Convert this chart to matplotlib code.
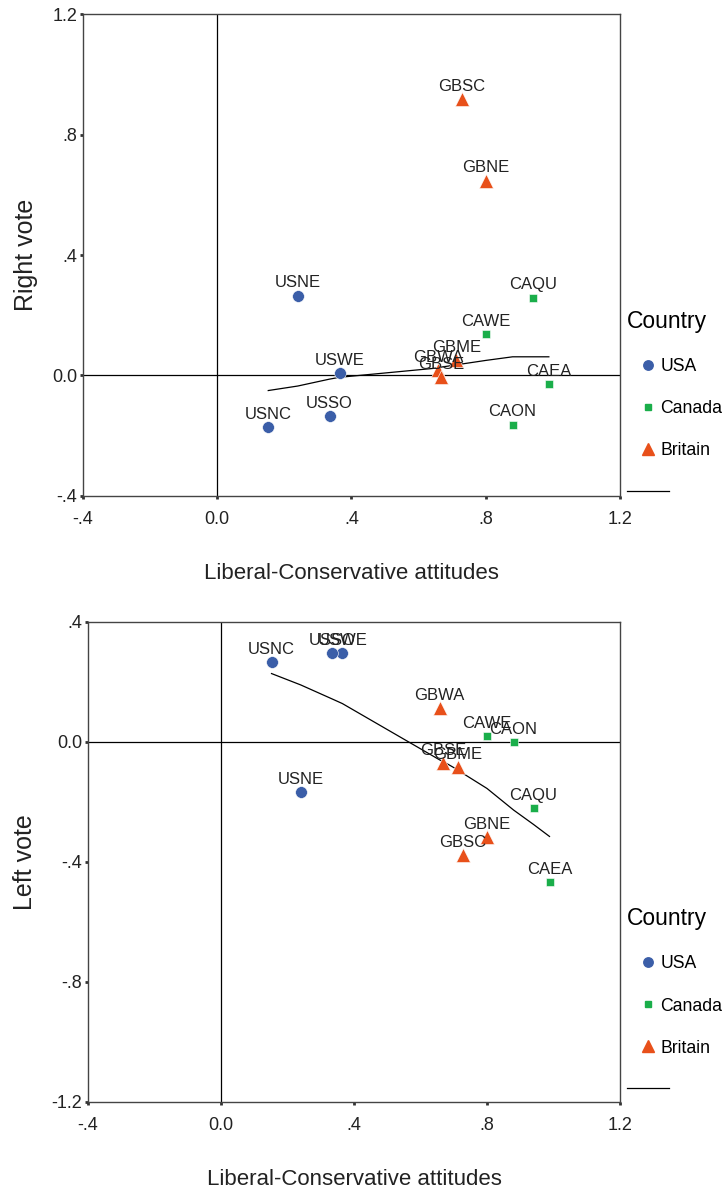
import matplotlib.pyplot as plt
from matplotlib.lines import Line2D

plt.rcParams['font.family'] = ['Liberation Sans', 'DejaVu Sans']

# region codes, country and liberal-conservative score
regions = ['USNE', 'USWE', 'USSO', 'USNC', 'CAQU', 'CAWE', 'CAEA', 'CAON',
           'GBSC', 'GBNE', 'GBME', 'GBWA', 'GBSE']
country = ['USA'] * 4 + ['Canada'] * 4 + ['Britain'] * 5
libcon = [0.24, 0.365, 0.335, 0.152, 0.94, 0.80, 0.988, 0.88,
          0.728, 0.80, 0.712, 0.658, 0.668]
right_vote = [0.265, 0.008, -0.135, -0.172, 0.258, 0.138, -0.028, -0.163,
              0.917, 0.647, 0.05, 0.017, -0.005]
left_vote = [-0.167, 0.297, 0.297, 0.267, -0.22, 0.02, -0.467, 0.0,
             -0.377, -0.317, -0.083, 0.113, -0.07]

# smoothed fit lines
fit_x = [0.152, 0.24, 0.335, 0.365, 0.658, 0.668, 0.712, 0.728, 0.80, 0.88, 0.94, 0.988]
fit_right = [-0.05, -0.035, -0.012, -0.006, 0.025, 0.028, 0.035, 0.038, 0.05, 0.062, 0.062, 0.062]
fit_left = [0.228, 0.19, 0.143, 0.128, -0.06, -0.065, -0.093, -0.105, -0.155, -0.227, -0.275, -0.315]

styles = {
    'USA': dict(marker='o', color='#3b5ea8', ms=8.5),
    'Canada': dict(marker='s', color='#1aae4a', ms=6),
    'Britain': dict(marker='^', color='#e8501a', ms=10),
}

x_ticks = [-0.4, 0.0, 0.4, 0.8, 1.2]
x_ticklabels = ['-.4', '0.0', '.4', '.8', '1.2']


def panel(ax, yvals, fit_y, ylim, yticks, yticklabels, ylabel, legend_y):
    ax.axhline(0, color='black', lw=0.9, zorder=1)
    ax.axvline(0, color='black', lw=0.9, zorder=1)
    for c in ['USA', 'Canada', 'Britain']:
        st = styles[c]
        xs = [x for x, k in zip(libcon, country) if k == c]
        ys = [y for y, k in zip(yvals, country) if k == c]
        ax.plot(xs, ys, ls='none', marker=st['marker'], color=st['color'],
                ms=st['ms'], mec='white', mew=0.4, zorder=3)
    for name, x, y in zip(regions, libcon, yvals):
        ax.annotate(name, (x, y), xytext=(0, 6), textcoords='offset points',
                    ha='center', va='baseline', fontsize=12, color='#222222', zorder=4)
    ax.plot(fit_x, fit_y, color='black', lw=0.9, zorder=2)

    ax.set_xlim(-0.4, 1.2)
    ax.set_ylim(*ylim)
    ax.set_xticks(x_ticks)
    ax.set_xticklabels(x_ticklabels)
    ax.set_yticks(yticks)
    ax.set_yticklabels(yticklabels)
    ax.tick_params(direction='out', length=2, width=2, labelsize=13,
                   colors='#333333', labelcolor='#222222')
    ax.tick_params(axis='x', pad=9)
    ax.tick_params(axis='y', pad=2)
    for s in ax.spines.values():
        s.set_color('#444444')
        s.set_linewidth(1.0)
    ax.set_xlabel('Liberal-Conservative attitudes', fontsize=16, labelpad=25, color='#222222')
    ax.set_ylabel(ylabel, fontsize=18, labelpad=10.5, color='#222222')

    handles = [Line2D([], [], ls='none', marker=styles[c]['marker'], color=styles[c]['color'],
                      ms=styles[c]['ms'] * 0.8, label=c) for c in ['USA', 'Canada', 'Britain']]
    handles.append(Line2D([], [], color='black', lw=0.9, label=' '))
    leg = ax.legend(handles=handles, title='Country', loc='upper left',
                    bbox_to_anchor=(1.0, legend_y), frameon=False, fontsize=12.7,
                    title_fontsize=16.5, handlelength=2.4, handletextpad=-0.5,
                    labelspacing=1.42, borderaxespad=0.0)
    leg._legend_box.align = 'left'


fig = plt.figure(figsize=(7.26, 12), dpi=100)
ax1 = fig.add_axes([0.1143, 0.5867, 0.854 - 0.1143, 0.9883 - 0.5867])
ax2 = fig.add_axes([0.1212, 0.0817, 0.854 - 0.1212, 0.4817 - 0.0817])

panel(ax1, right_vote, fit_right, (-0.4, 1.2), [-0.4, 0.0, 0.4, 0.8, 1.2],
      ['-.4', '0.0', '.4', '.8', '1.2'], 'Right vote', 0.40)
panel(ax2, left_vote, fit_left, (-1.2, 0.4), [-1.2, -0.8, -0.4, 0.0, 0.4],
      ['-1.2', '-.8', '-.4', '0.0', '.4'], 'Left vote', 0.42)

fig.savefig('out.png', dpi=100)
